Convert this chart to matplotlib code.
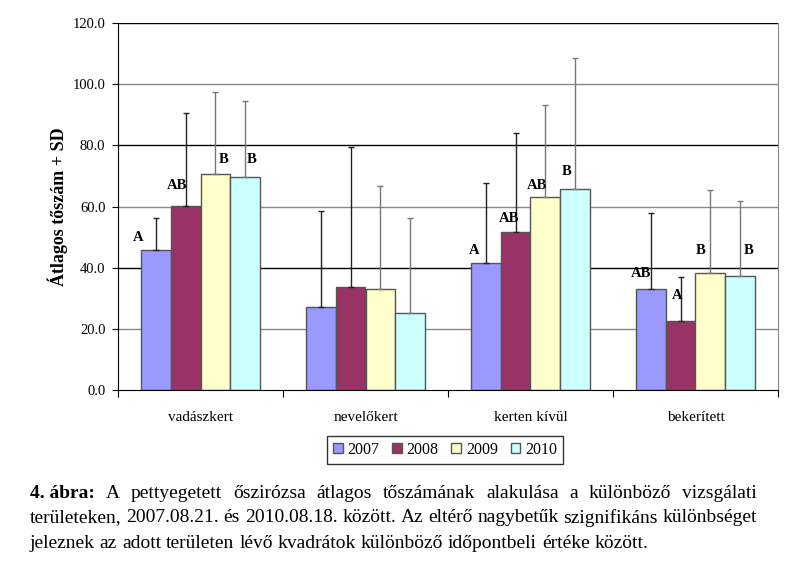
import matplotlib
matplotlib.use("Agg")
import matplotlib.pyplot as plt
import numpy as np

plt.rcParams['font.family'] = ['Liberation Serif', 'DejaVu Serif']

categories = ['vadászkert', 'nevelőkert', 'kerten kívül', 'bekerített']
years = ['2007', '2008', '2009', '2010']
means = {
    '2007': [45.8, 27.2, 41.6, 33.1],
    '2008': [60.3, 33.7, 51.7, 22.6],
    '2009': [70.7, 33.1, 63.0, 38.4],
    '2010': [69.7, 25.3, 65.8, 37.2],
}
sd = {
    '2007': [10.4, 31.4, 26.0, 24.7],
    '2008': [30.4, 45.8, 32.3, 14.3],
    '2009': [26.9, 33.5, 30.1, 26.9],
    '2010': [24.8, 31.0, 42.6, 24.5],
}
colors = ['#9999FF', '#993366', '#FFFFCC', '#CCFFFF']
err_colors = ['#222222', '#222222', '#777777', '#777777']

# significance letters: (category, year index, letter, y, x offset from bar centre)
letters = [
    (0, 0, 'A', 50.0, -0.11), (0, 1, 'AB', 67.0, -0.05),
    (0, 2, 'B', 75.5, 0.05), (0, 3, 'B', 75.5, 0.04),
    (2, 0, 'A', 45.5, -0.07), (2, 1, 'AB', 56.0, -0.04),
    (2, 2, 'AB', 67.0, -0.05), (2, 3, 'B', 71.3, -0.05),
    (3, 0, 'AB', 38.0, -0.06), (3, 1, 'A', 31.0, -0.02),
    (3, 2, 'B', 45.5, -0.06), (3, 3, 'B', 45.5, 0.05),
]

caption = [
    [('4. ábra:', 'bold')] + [(w, 'normal') for w in
        'A pettyegetett őszirózsa átlagos tőszámának alakulása a különböző vizsgálati'.split()],
    [(w, 'normal') for w in
        'területeken, 2007.08.21. és 2010.08.18. között. Az eltérő nagybetűk szignifikáns különbséget'.split()],
    [(w, 'normal') for w in
        'jeleznek az adott területen lévő kvadrátok különböző időpontbeli értéke között.'.split()],
]

W, H = 806, 563
fig = plt.figure(figsize=(W / 100, H / 100), dpi=100)
ax = fig.add_axes([118 / W, 1 - 390 / H, 660 / W, 367 / H])

x = np.arange(len(categories))
bw = 0.18
offs = [-1.5 * bw, -0.5 * bw, 0.5 * bw, 1.5 * bw]

grid_cols = ['#888888', '#000000', '#888888', '#000000', '#888888', '#000000']
for i, v in enumerate(range(20, 121, 20)):
    ax.axhline(v, color=grid_cols[i], lw=1.0, zorder=0)

for i, yr in enumerate(years):
    ax.bar(x + offs[i], means[yr], bw, color=colors[i], edgecolor='#555555',
           lw=1.0, zorder=2, label=yr)
    ax.errorbar(x + offs[i], means[yr], yerr=[np.zeros(4), sd[yr]], fmt='none',
                ecolor=err_colors[i], elinewidth=1.0, capsize=2.5, capthick=1.0, zorder=3)

for c, yi, lab, yv, dx in letters:
    ax.text(x[c] + offs[yi] + dx, yv, lab, ha='center', va='center',
            fontsize=10.5, fontweight='bold', zorder=4)

ax.set_xlim(-0.5, 3.5)
ax.set_ylim(0, 120)
ax.set_yticks(np.arange(0, 121, 20))
ax.set_yticklabels(['%.1f' % v for v in np.arange(0, 121, 20)], fontsize=10.5)
ax.set_xticks(np.arange(-0.5, 3.6, 1.0))
ax.set_xticklabels([])
ax.set_xticks(x, minor=True)
ax.set_xticklabels(categories, minor=True, fontsize=11)
ax.tick_params(axis='x', which='minor', length=0, pad=15)
ax.tick_params(axis='x', which='major', length=5, direction='out', color='black')
ax.tick_params(axis='y', length=4, direction='out', pad=5)
ax.spines['top'].set_visible(False)
ax.spines['right'].set_color('#888888')
ax.spines['left'].set_color('black')
ax.spines['bottom'].set_color('black')
ax.set_ylabel('Átlagos tőszám + SD', fontsize=13, fontweight='bold', labelpad=3)

leg = fig.legend(loc='center', bbox_to_anchor=(445 / W, 1 - 450 / H), ncol=4,
                 fontsize=11.5, frameon=True, fancybox=False, edgecolor='black',
                 handlelength=0.6, handleheight=0.6, handletextpad=0.3,
                 columnspacing=0.8, borderpad=0.35, borderaxespad=0)
leg.get_frame().set_linewidth(1.0)
for h in leg.legend_handles:
    h.set_edgecolor('#555555')

# justified caption below the chart
fig.canvas.draw()
rend = fig.canvas.get_renderer()
x0, x1 = 30, 757
line_y = [493, 518, 543]
fs = 14.0
for li, words in enumerate(caption):
    texts = []
    for w, wt in words:
        t = fig.text(0, 0, w, fontsize=fs, fontweight=wt, va='center', ha='left')
        texts.append(t)
    widths = [t.get_window_extent(rend).width for t in texts]
    if li < len(caption) - 1:
        gap = (x1 - x0 - sum(widths)) / (len(texts) - 1)
    else:
        sp = fig.text(0, 0, 'a a', fontsize=fs)
        sp2 = fig.text(0, 0, 'aa', fontsize=fs)
        gap = sp.get_window_extent(rend).width - sp2.get_window_extent(rend).width
        sp.remove()
        sp2.remove()
    cx = x0
    for t, wd in zip(texts, widths):
        t.set_position((cx / W, 1 - line_y[li] / H))
        cx += wd + gap

fig.savefig('out.png', dpi=100)
